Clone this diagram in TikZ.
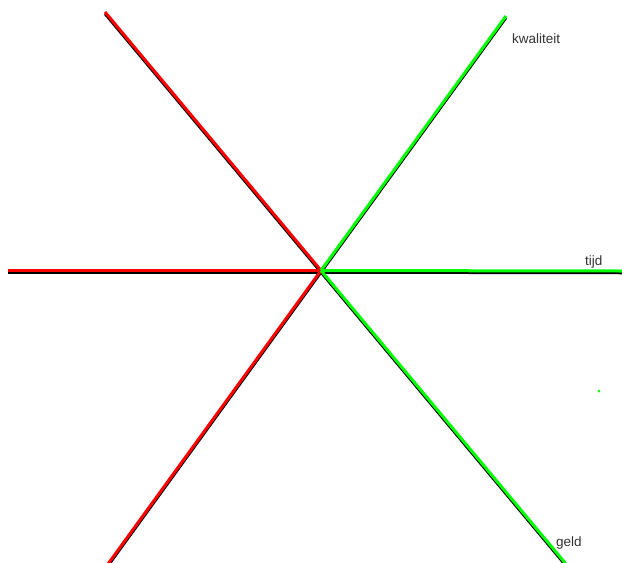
\documentclass[tikz,border=0pt]{standalone}
\usepackage{fontspec}
\setmainfont{Liberation Sans}

\begin{document}
\begin{tikzpicture}[x=1pt,y=-1pt,every node/.style={font=\fontsize{13.5}{15}\selectfont,text=black!80,inner sep=0pt},
  shade line/.style={black,line width=2.5pt,transform canvas={yshift=-2pt}},
  red arm/.style={red,line width=3pt},
  green arm/.style={green,line width=3pt}]
\useasboundingbox (0,0) rectangle (622,563);
\fill[white] (0,0) rectangle (622,563);
\coordinate (mid) at (321,270.5);
\coordinate (kw) at (506,16);
\coordinate (tj) at (622,271);
\coordinate (gd) at (566,564);
\coordinate (ul) at (105,12);
\coordinate (le) at (8,270.5);
\coordinate (ll) at (108,564);
% schaduw
\draw[shade line] (ul)--(mid);
\draw[shade line] (le)--(mid);
\draw[shade line] (ll)--(mid);
\draw[shade line] (mid)--(kw);
\draw[shade line] (mid)--(tj);
\draw[shade line] (mid)--(gd);
% armen
\draw[red arm] (ul)--(mid);
\draw[red arm] (le)--(mid);
\draw[red arm] (ll)--(mid);
\draw[green arm] (mid)--(kw);
\draw[green arm] (mid)--(tj);
\draw[green arm] (mid)--(gd);
\fill[green] (599,391) circle (1.5);
\node[anchor=base west] (kwal) at (512,43) {kwaliteit};
\node[anchor=base west] (tijd) at (585,265) {tijd};
\node[anchor=base west] (geld) at (556,546) {geld};
\end{tikzpicture}
\end{document}
